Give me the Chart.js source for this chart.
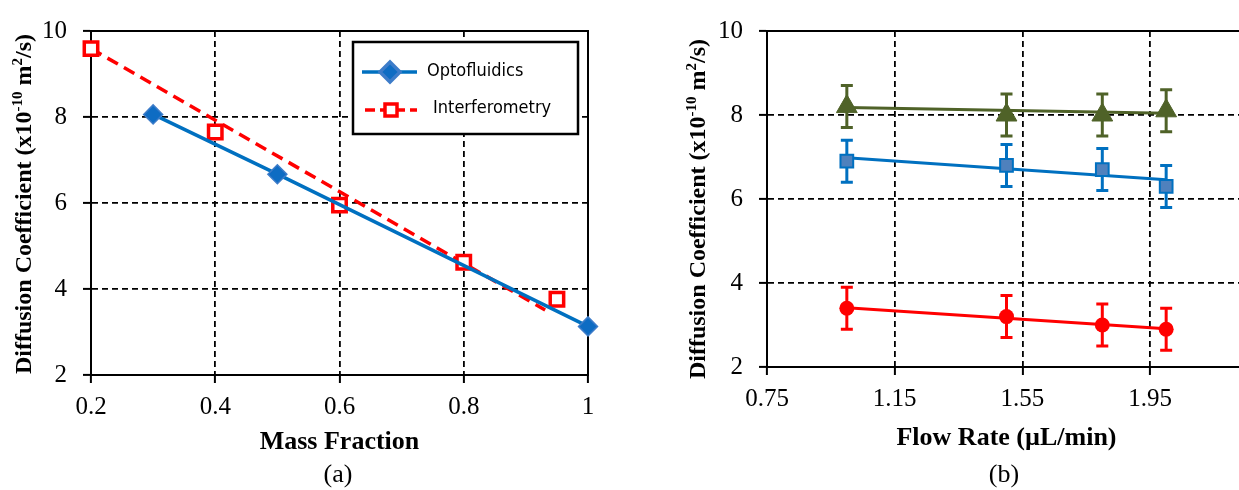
<!DOCTYPE html>
<html>
<head>
<meta charset="utf-8">
<script src="https://cdn.jsdelivr.net/npm/chart.js@4.4.0/dist/chart.umd.min.js"></script>
<style>
  html, body { margin: 0; padding: 0; background: #fff; overflow: hidden; width: 1239px; height: 490px; }
  .wrap { position: absolute; top: 0; height: 490px; }
  #wrapA { left: 0; width: 620px; }
  #wrapB { left: 620px; width: 640px; }
  .cap { position: absolute; top: 461px; width: 80px; text-align: center; color: #000;
         font: 26px/26px 'Liberation Serif', 'Times New Roman', serif; }
</style>
</head>
<body>
<div class="wrap" id="wrapA"><canvas id="chartA" width="620" height="490"></canvas></div>
<div class="wrap" id="wrapB"><canvas id="chartB" width="640" height="490"></canvas></div>
<div class="cap" style="left:298px">(a)</div>
<div class="cap" style="left:964px">(b)</div>
<script>
// (a) diffusion coefficient vs mass fraction
const massOpto = [0.3, 0.5, 1.0];
const diffOpto = [8.06, 6.67, 3.13];
const massInterf = [0.2, 0.4, 0.6, 0.8, 0.95];
const diffInterf = [9.59, 7.65, 5.95, 4.62, 3.76];
const massInterfFit = [0.2, 0.931];
const diffInterfFit = [9.59, 3.51];
const massTicks = [0.2, 0.4, 0.6, 0.8, 1];

// (b) diffusion coefficient vs flow rate
const flowRates = [1.0, 1.5, 1.8, 2.0];
const diffGreen = [8.2, 8.0, 8.0, 8.1];
const diffBlue = [6.9, 6.8, 6.7, 6.3];
const diffRed = [3.4, 3.2, 3.0, 2.9];
const errGreen = [0.5, 0.5, 0.5, 0.5];
const errBlue = [0.5, 0.5, 0.5, 0.5];
const errRed = [0.5, 0.5, 0.5, 0.5];
const flowFit = [1.0, 2.0];
const fitGreen = [8.18, 8.04];
const fitBlue = [6.98, 6.46];
const fitRed = [3.41, 2.91];
const flowTicks = [0.75, 1.15, 1.55, 1.95];

const diffTicks = [2, 4, 6, 8, 10];
const yTitleParts = [['Diffusion Coefficient (x10', false], ['-10', true], [' m', false], ['2', true], ['/s)', false]];

const SERIF = "'Liberation Serif', 'Times New Roman', serif";
const tickFont = { family: SERIF, size: 25 };
const titleFont = { family: SERIF, size: 26, weight: 'bold' };

const xy = (xs, ys) => xs.map((x, i) => ({ x: x, y: ys[i] }));

function scalesFor(o) {
  const grid = { color: '#000', lineWidth: 1.8, tickLength: 8, tickColor: '#000', tickWidth: 2, tickBorderDash: [] };
  const border = { display: true, color: '#000', width: 2, dash: [6, 4] };
  return {
    x: {
      type: 'linear', min: o.xMin, max: o.xMax, grid: grid, border: border,
      afterBuildTicks: s => { s.ticks = o.xTicks.map(v => ({ value: v })); },
      afterFit: s => { s.height = o.xHeight; },
      ticks: { color: '#000', font: tickFont, padding: 9, maxRotation: 0, autoSkip: false, callback: o.fmt },
      title: { display: true, text: o.xTitle, color: '#000', font: titleFont, padding: { top: 0, bottom: o.xTitlePad } }
    },
    y: {
      type: 'linear', min: 2, max: 10, grid: grid, border: border,
      afterBuildTicks: s => { s.ticks = diffTicks.map(v => ({ value: v })); },
      afterFit: s => { s.width = o.yWidth; },
      ticks: { color: '#000', font: tickFont, padding: 16, autoSkip: false }
    }
  };
}

// solid frame around the plot area, drawn under the markers
const framePlugin = {
  id: 'frame',
  beforeDatasetsDraw(chart) {
    const { ctx, chartArea: a } = chart;
    ctx.save();
    ctx.strokeStyle = '#000';
    ctx.lineWidth = 2;
    ctx.strokeRect(a.left, a.top, a.right - a.left, a.bottom - a.top);
    ctx.restore();
  }
};

// rotated y title with real superscripts
const yTitlePlugin = {
  id: 'yTitle',
  afterDraw(chart, args, opts) {
    const { ctx, chartArea: a } = chart;
    const big = 'bold 24px ' + SERIF, small = 'bold 15px ' + SERIF;
    ctx.save();
    ctx.fillStyle = '#000';
    ctx.textBaseline = 'alphabetic';
    let total = 0;
    yTitleParts.forEach(([t, sup]) => { ctx.font = sup ? small : big; total += ctx.measureText(t).width; });
    ctx.translate(opts.x, (a.top + a.bottom) / 2 + opts.dy);
    ctx.rotate(-Math.PI / 2);
    let cx = -total / 2;
    yTitleParts.forEach(([t, sup]) => {
      ctx.font = sup ? small : big;
      ctx.fillText(t, cx, sup ? -1 : 8);
      cx += ctx.measureText(t).width;
    });
    ctx.restore();
  }
};

const errorBarPlugin = {
  id: 'errorBars',
  beforeDatasetsDraw(chart) {
    const { ctx, scales: { x, y } } = chart;
    chart.data.datasets.forEach(ds => {
      if (!ds.errors) return;
      ctx.save();
      ctx.strokeStyle = ds.errorColor;
      ctx.lineWidth = 3;
      ds.data.forEach((p, i) => {
        const px = x.getPixelForValue(p.x);
        const top = y.getPixelForValue(p.y + ds.errors[i]);
        const bot = y.getPixelForValue(p.y - ds.errors[i]);
        ctx.beginPath();
        ctx.moveTo(px, top); ctx.lineTo(px, bot);
        ctx.moveTo(px - 6, top); ctx.lineTo(px + 6, top);
        ctx.moveTo(px - 6, bot); ctx.lineTo(px + 6, bot);
        ctx.stroke();
      });
      ctx.restore();
    });
  }
};

// boxed legend inside panel (a)
const boxLegendPlugin = {
  id: 'boxLegend',
  afterDatasetsDraw(chart) {
    const { ctx, chartArea: a } = chart;
    const left = a.right - 235, top = a.top + 11, w = 225, h = 92;
    ctx.save();
    ctx.fillStyle = '#fff';
    ctx.fillRect(left, top, w, h);
    ctx.lineWidth = 2.5;
    ctx.strokeStyle = '#000';
    ctx.strokeRect(left, top, w, h);

    ctx.strokeStyle = '#0070C0';
    ctx.lineWidth = 3.5;
    ctx.beginPath(); ctx.moveTo(left + 9, top + 30); ctx.lineTo(left + 64, top + 30); ctx.stroke();
    ctx.fillStyle = '#0E6CC3'; ctx.strokeStyle = '#3D7CC9';
    Chart.helpers.drawPoint(ctx, { pointStyle: 'rectRot', radius: 10, borderWidth: 1.5, rotation: 0 }, left + 37, top + 30);

    ctx.strokeStyle = '#FF0000';
    ctx.lineWidth = 3.5;
    ctx.setLineDash([10, 5]);
    ctx.beginPath(); ctx.moveTo(left + 12, top + 68); ctx.lineTo(left + 64, top + 68); ctx.stroke();
    ctx.setLineDash([]);
    ctx.fillStyle = '#fff';
    Chart.helpers.drawPoint(ctx, { pointStyle: 'rect', radius: 8.5, borderWidth: 3, rotation: 0 }, left + 38, top + 68);

    ctx.fillStyle = '#000';
    ctx.font = "18px 'DejaVu Sans Condensed', 'Liberation Sans', sans-serif";
    ctx.textBaseline = 'middle';
    ctx.fillText('Optofluidics', left + 74, top + 29);
    ctx.fillText('Interferometry', left + 80, top + 66);
    ctx.restore();
  }
};

const common = {
  responsive: false,
  animation: false,
  events: [],
  plugins: { legend: { display: false }, tooltip: { enabled: false } }
};

new Chart(document.getElementById('chartA'), {
  type: 'line',
  data: {
    datasets: [
      {
        label: 'Optofluidics', data: xy(massOpto, diffOpto), clip: false,
        borderColor: '#0070C0', borderWidth: 3.5,
        pointStyle: 'rectRot', pointRadius: 9.5, pointBorderWidth: 1.5,
        pointBackgroundColor: '#0E6CC3', pointBorderColor: '#3D7CC9'
      },
      {
        label: 'Interferometry', data: xy(massInterf, diffInterf), showLine: false, clip: false,
        pointStyle: 'rect', pointRadius: 9.5, pointBorderWidth: 3.5,
        pointBackgroundColor: '#fff', pointBorderColor: '#FF0000'
      },
      {
        label: 'Interferometry fit', data: xy(massInterfFit, diffInterfFit),
        borderColor: '#FF0000', borderWidth: 3.5, borderDash: [12, 7], pointRadius: 0
      }
    ]
  },
  options: Object.assign({}, common, {
    layout: { padding: { top: 21, right: 32, left: 0, bottom: 0 } },
    scales: scalesFor({ xMin: 0.2, xMax: 1, xTicks: massTicks, fmt: v => String(v),
      xHeight: 115, xTitle: 'Mass Fraction', xTitlePad: 32, yWidth: 91 }),
    plugins: Object.assign({}, common.plugins, { yTitle: { x: 23, dy: 1 } })
  }),
  plugins: [framePlugin, boxLegendPlugin, yTitlePlugin]
});

new Chart(document.getElementById('chartB'), {
  type: 'line',
  data: {
    datasets: [
      {
        label: 'Series 1', data: xy(flowRates, diffGreen), showLine: false, clip: false,
        errors: errGreen, errorColor: '#4F6228',
        pointStyle: 'triangle', pointRadius: 12, pointBorderWidth: 1,
        pointBackgroundColor: '#4F6228', pointBorderColor: '#4F6228'
      },
      {
        label: 'Series 2', data: xy(flowRates, diffBlue), showLine: false, clip: false,
        errors: errBlue, errorColor: '#0070C0',
        pointStyle: 'rect', pointRadius: 9, pointBorderWidth: 2,
        pointBackgroundColor: '#4F81BD', pointBorderColor: '#0070C0'
      },
      {
        label: 'Series 3', data: xy(flowRates, diffRed), showLine: false, clip: false,
        errors: errRed, errorColor: '#FF0000',
        pointStyle: 'circle', pointRadius: 7.5, pointBorderWidth: 0,
        pointBackgroundColor: '#FF0000'
      },
      { label: 'Fit 1', data: xy(flowFit, fitGreen), borderColor: '#4F6228', borderWidth: 3, pointRadius: 0 },
      { label: 'Fit 2', data: xy(flowFit, fitBlue), borderColor: '#0070C0', borderWidth: 3, pointRadius: 0 },
      { label: 'Fit 3', data: xy(flowFit, fitRed), borderColor: '#FF0000', borderWidth: 3, pointRadius: 0 }
    ]
  },
  options: Object.assign({}, common, {
    layout: { padding: { top: 30, right: 14, left: 0, bottom: 0 } },
    scales: scalesFor({ xMin: 0.75, xMax: 2.25, xTicks: flowTicks, fmt: v => v.toFixed(2),
      xHeight: 123, xTitle: 'Flow Rate (\u00b5L/min)', xTitlePad: 36, yWidth: 147 }),
    plugins: Object.assign({}, common.plugins, { yTitle: { x: 77, dy: 10 } })
  }),
  plugins: [framePlugin, errorBarPlugin, yTitlePlugin]
});
</script>
</body>
</html>
